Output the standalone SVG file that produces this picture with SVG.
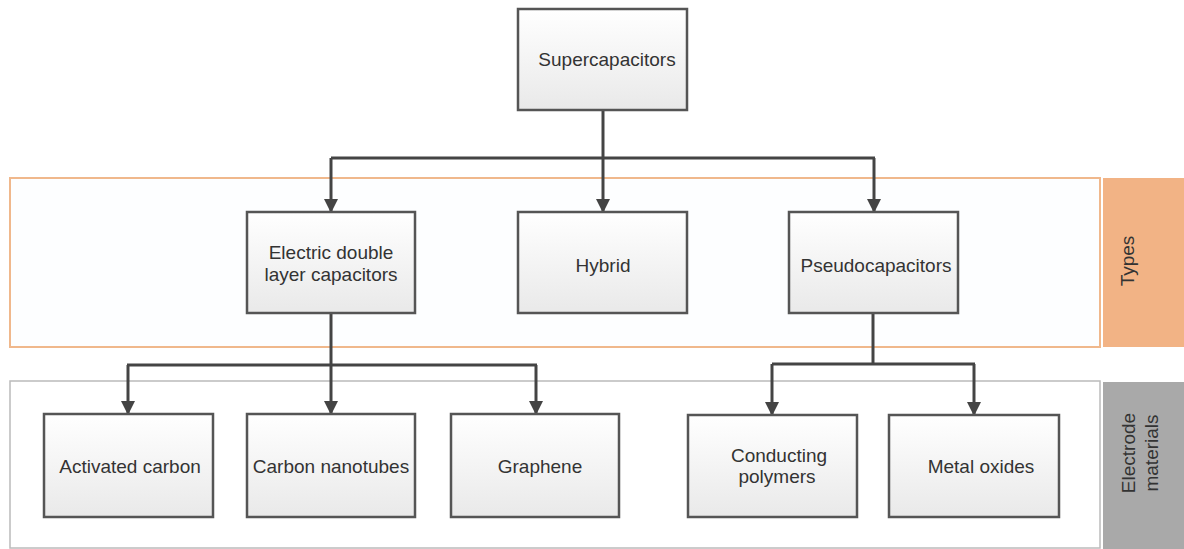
<svg xmlns="http://www.w3.org/2000/svg" width="1184" height="549" viewBox="0 0 1184 549">
<defs>
<linearGradient id="g" x1="0" y1="0" x2="0" y2="1">
<stop offset="0" stop-color="#ffffff"/>
<stop offset="1" stop-color="#e9e9e9"/>
</linearGradient>
<marker id="a" markerWidth="14" markerHeight="14" refX="13" refY="7" orient="auto" markerUnits="userSpaceOnUse" viewBox="0 0 14 14">
<path d="M0,0 L14,7 L0,14 Z" fill="#444"/>
</marker>
</defs>
<style>
.box{fill:url(#g);stroke:#555;stroke-width:2.5}
.t{font-family:"Liberation Sans",Arial,sans-serif;font-size:19px;fill:#333;text-anchor:middle}
.c{fill:none;stroke:#444;stroke-width:3}
</style>
<rect width="1184" height="549" fill="#fff"/>
<g id="band-types">
<rect x="10" y="178" width="1090" height="169" fill="#fdfeff" stroke="#f0b88c" stroke-width="2"/>
<rect x="1103" y="178" width="81" height="169" fill="#f2b385"/>
<text class="t" transform="translate(1134,261) rotate(-90)">Types</text>
</g>
<g id="band-materials">
<rect x="10" y="381" width="1090" height="167" fill="#ffffff" stroke="#bbb" stroke-width="1.5"/>
<rect x="1103" y="382" width="81" height="167" fill="#a9a9a9"/>
<text class="t" transform="translate(1135,453) rotate(-90)" font-size="20px">Electrode</text>
<text class="t" transform="translate(1158,453) rotate(-90)" font-size="20px">materials</text>
</g>
<g id="connectors">
<path class="c" d="M603,110 V158"/>
<path class="c" d="M331,158 H875"/>
<path class="c" d="M331,158 V212" marker-end="url(#a)"/>
<path class="c" d="M603,158 V212" marker-end="url(#a)"/>
<path class="c" d="M874,158 V212" marker-end="url(#a)"/>
<path class="c" d="M331,313 V365"/>
<path class="c" d="M127,365 H537"/>
<path class="c" d="M128,365 V414" marker-end="url(#a)"/>
<path class="c" d="M331,365 V414" marker-end="url(#a)"/>
<path class="c" d="M536,365 V414" marker-end="url(#a)"/>
<path class="c" d="M873,313 V364"/>
<path class="c" d="M772,364 H975"/>
<path class="c" d="M772,364 V415" marker-end="url(#a)"/>
<path class="c" d="M974,364 V415" marker-end="url(#a)"/>
</g>
<g id="n-super"><rect class="box" x="518" y="9" width="169" height="101"/><text class="t" x="607" y="66">Supercapacitors</text></g>
<g id="n-edlc"><rect class="box" x="247" y="212" width="168" height="101"/><text class="t" x="331" y="259">Electric double</text><text class="t" x="331" y="281">layer capacitors</text></g>
<g id="n-hybrid"><rect class="box" x="518" y="212" width="169" height="101"/><text class="t" x="603" y="272">Hybrid</text></g>
<g id="n-pseudo"><rect class="box" x="789" y="212" width="169" height="101"/><text class="t" x="876" y="272">Pseudocapacitors</text></g>
<g id="n-ac"><rect class="box" x="44" y="414" width="169" height="103"/><text class="t" x="130" y="473">Activated carbon</text></g>
<g id="n-cnt"><rect class="box" x="247" y="414" width="168" height="103"/><text class="t" x="331" y="473">Carbon nanotubes</text></g>
<g id="n-gr"><rect class="box" x="451" y="414" width="168" height="103"/><text class="t" x="540" y="473">Graphene</text></g>
<g id="n-cp"><rect class="box" x="688" y="415" width="169" height="102"/><text class="t" x="779" y="462">Conducting</text><text class="t" x="777" y="483">polymers</text></g>
<g id="n-mo"><rect class="box" x="889" y="415" width="170" height="102"/><text class="t" x="981" y="473">Metal oxides</text></g>
</svg>
